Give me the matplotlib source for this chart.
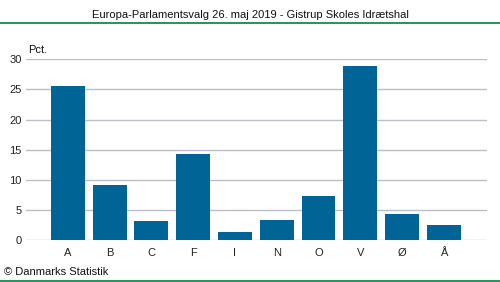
import matplotlib
matplotlib.use("Agg")
import matplotlib.pyplot as plt
from matplotlib.lines import Line2D

categories = ["A", "B", "C", "F", "I", "N", "O", "V", "Ø", "Å"]
values = [25.6, 9.1, 3.2, 14.3, 1.3, 3.3, 7.3, 28.9, 4.3, 2.5]
yticks = [0, 5, 10, 15, 20, 25, 30]

plt.rcParams['font.family'] = ['Liberation Sans', 'DejaVu Sans']

W, H = 500, 282
fig = plt.figure(figsize=(W/100, H/100), dpi=100)
ax = fig.add_axes([26/W, 1-240/H, (487-26)/W, (240-59.3)/H])

x = list(range(len(categories)))
ax.bar(x, values, width=0.81, color="#006496", zorder=3)
ax.set_xlim(-1.0, 10.03)
ax.set_ylim(0, 30)
ax.set_yticks(yticks)
ax.set_yticklabels([str(t) for t in yticks], fontsize=8, color="#222222")
ax.set_xticks(x)
ax.set_xticklabels(categories, fontsize=8, color="#222222")
ax.tick_params(length=0, pad=3)
ax.tick_params(axis='x', pad=6)
for s in ax.spines.values():
    s.set_visible(False)
ax.grid(axis='y', color="#bebec8", linewidth=1.0, zorder=0)
ax.set_axisbelow(True)

fig.text(250/W, 1-15/H, "Europa-Parlamentsvalg 26. maj 2019 - Gistrup Skoles Idrætshal",
         ha='center', va='center', fontsize=8, color="#111111")
fig.text(28/W, 1-50/H, "Pct.", ha='left', va='center', fontsize=8, color="#111111")
fig.text(4/W, 1-272/H, "© Danmarks Statistik", ha='left', va='center', fontsize=8, color="#111111")

fig.add_artist(Line2D([0, 1], [1-22.5/H, 1-22.5/H], color="#00803c", linewidth=1.2, transform=fig.transFigure))
fig.add_artist(Line2D([0, 1], [1-281/H, 1-281/H], color="#00803c", linewidth=1.2, transform=fig.transFigure))

fig.savefig("out.png", dpi=100)
